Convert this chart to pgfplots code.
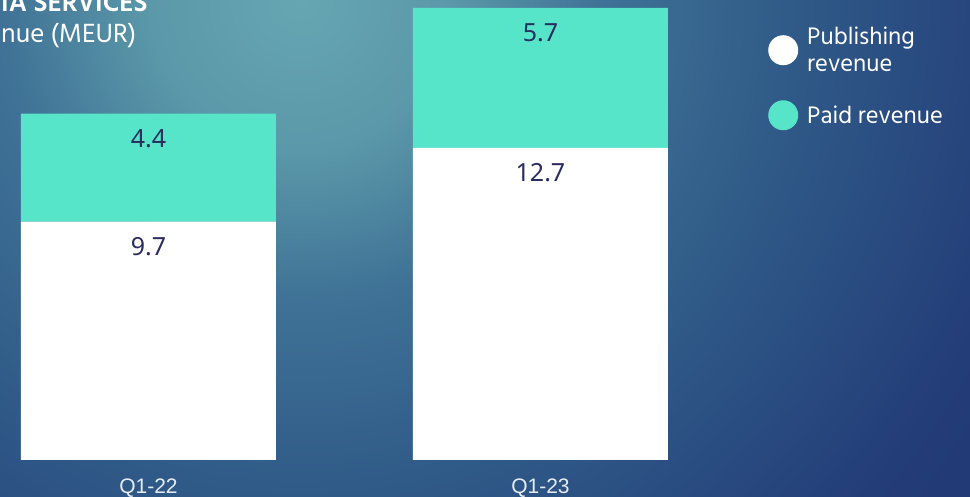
\documentclass[border=0pt]{standalone}
\usepackage{pgfplots}
\pgfplotsset{compat=1.18}
\usepackage{fontspec}
\setmainfont{Liberation Sans}
\newfontfamily\hind{Hind Siliguri}
\newfontfamily\valfont{Noto Sans}
\newfontfamily\tickfont{Liberation Sans}
\definecolor{paidc}{HTML}{57E5C9}
\definecolor{navy}{HTML}{2A2C5F}
\definecolor{ticktext}{HTML}{E4ECF2}
\definecolor{bgA}{HTML}{66A6B2}
\definecolor{bgB}{HTML}{5B98A9}
\definecolor{bgC}{HTML}{3F7296}
\definecolor{bgD}{HTML}{2F5987}
\definecolor{bgE}{HTML}{233D79}
\definecolor{bgF}{HTML}{1F3470}
\pgfdeclareradialshading{bgshade}{\pgfpoint{0bp}{0bp}}{color(0bp)=(bgA); color(3.75bp)=(bgB); color(7.5bp)=(bgC); color(12.5bp)=(bgD); color(18.75bp)=(bgE); color(25bp)=(bgF); color(50bp)=(bgF)}
\begin{document}
\begin{tikzpicture}[x=1pt,y=1pt]
\begin{scope}
\clip (0,0) rectangle (970,496);
\shade[shading=bgshade] (300,496) circle (1000);
\end{scope}
\begin{axis}[
  at={(0,0)}, anchor=south west,
  scale only axis, width=970pt, height=496pt,
  xmin=-0.3788, xmax=2.0957, ymin=-1.4652, ymax=18.7205,
  ybar stacked, bar width=255pt,
  axis line style={draw=none},
  ytick=\empty, xtick={0,1}, xticklabels={Q1-22,Q1-23},
  major tick length=0pt,
  xticklabel style={anchor=base, yshift=3pt, font=\tickfont\fontsize{21}{25}\selectfont, text=ticktext},
  clip=false,
  legend cell align=left,
  legend style={at={(0.7918,0.9456)}, anchor=north west, draw=none, fill=none,
    inner sep=0pt, column sep=9pt, row sep=27pt,
    font=\hind\fontsize{24.5}{27}\selectfont, text=white,
    nodes={inner sep=0pt}, cells={align=left}},
  after end axis/.code={
    \node[anchor=base, yshift=-34pt, font=\valfont\fontsize{25}{30}\selectfont, text=navy] at (axis cs:0,14.1) {4.4};
    \node[anchor=base, yshift=-34pt, font=\valfont\fontsize{25}{30}\selectfont, text=navy] at (axis cs:0,9.7) {9.7};
    \node[anchor=base, yshift=-34pt, font=\valfont\fontsize{25}{30}\selectfont, text=navy] at (axis cs:1,18.4) {5.7};
    \node[anchor=base, yshift=-34pt, font=\valfont\fontsize{25}{30}\selectfont, text=navy] at (axis cs:1,12.7) {12.7};
  },
]
\addplot[fill=white, draw=none, legend image code/.code={\fill[white] (0pt,0pt) circle (15pt);}] coordinates {(0,9.7) (1,12.7)};
\addlegendentry{Publishing\\revenue}
\addplot[fill=paidc, draw=none, legend image code/.code={\fill[paidc] (0pt,0pt) circle (15pt);}] coordinates {(0,4.4) (1,5.7)};
\addlegendentry{Paid revenue}
\end{axis}
\node[anchor=base west, inner sep=0pt, font=\hind\bfseries\fontsize{27}{30}\selectfont, text=white] at (1,484) {IA SERVICES};
\node[anchor=base west, inner sep=0pt, font=\hind\fontsize{27}{30}\selectfont, text=white] at (1,453) {nue (MEUR)};
\pgfresetboundingbox
\useasboundingbox (0,0) rectangle (970,496);
\end{tikzpicture}
\end{document}
